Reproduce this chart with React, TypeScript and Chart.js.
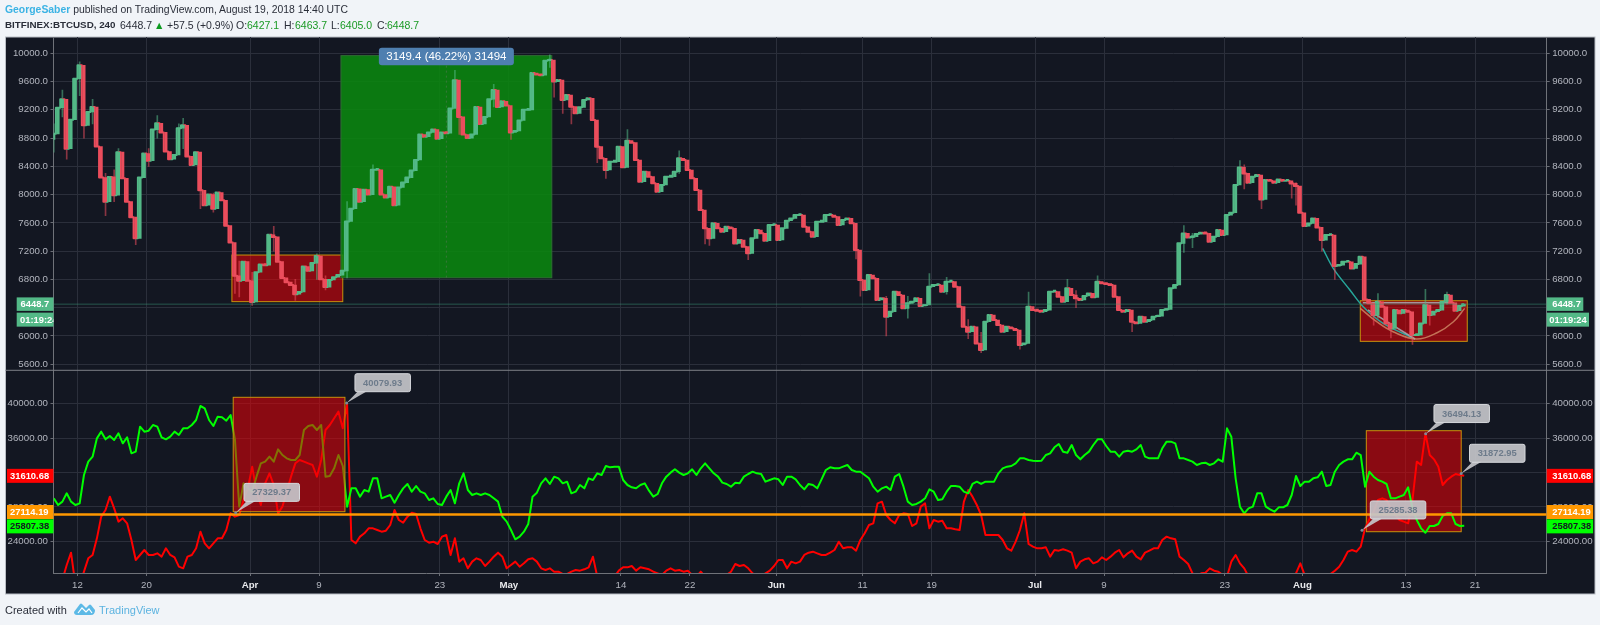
import React, { useEffect, useRef } from "react";
import { Chart, registerables } from "chart.js";

Chart.register(...registerables);

// ---- time axis (days counted from 1 March 2018) ----
const axisDayMin = 8.218;
const axisDayMax = 181.31;
const tickDays = [11, 19, 31, 39, 53, 61, 74, 82, 92, 102, 110, 122, 130, 144, 153, 165, 173];
const tickLabels = ["12", "20", "Apr", "9", "23", "May", "14", "22", "Jun", "11", "19", "Jul", "9", "23", "Aug", "13", "21"];
const monthTickDays = [31, 61, 92, 122, 153];

const priceTicks = [5600, 6000, 6400, 6800, 7200, 7600, 8000, 8400, 8800, 9200, 9600, 10000];
const lowerTicks = [24000, 28000, 32000, 36000, 40000];

const firstBarDay = 8.25;
const barStepDays = 0.5;

// ---- BTCUSD closes, one value every half day ----
const closes = [
  8860, 9230, 9350, 8650, 9060, 9640, 9830, 8980, 9170, 9240,
  8680, 8240, 7900, 8250, 7990, 8600, 8230, 7900, 7680, 7380,
  8240, 8580, 8480, 8920, 9010, 8880, 8610, 8500, 8560, 8940,
  8980, 8540, 8420, 8600, 8060, 7850, 8000, 7800, 8030, 7920,
  7560, 7320, 6850, 6780, 7050, 6780, 6480, 6900, 7010, 7000,
  7430, 7400, 7050, 6820, 6760, 6720, 6590, 6620, 6980, 6920,
  7030, 7130, 6800, 6690, 6790, 6830, 6860, 6920, 7620, 7800,
  8080, 7900, 8070, 8000, 8350, 8350, 8000, 7960, 8110, 7850,
  8100, 8170, 8240, 8340, 8490, 8850, 8820, 8880, 8920, 8790,
  8880, 8870, 9220, 9620, 9100, 8850, 8800, 8850, 9240, 9000,
  9100, 9350, 9480, 9240, 9320, 9260, 8880, 8900, 9050, 9200,
  9200, 9720, 9700, 9690, 9896, 9905, 9600, 9622, 9339, 9410,
  9245, 9150, 9235, 9339, 9363, 9056, 8678, 8513, 8348, 8466,
  8466, 8678, 8386, 8763, 8735, 8490, 8183, 8324, 8253, 8159,
  8041, 8135, 8253, 8253, 8324, 8513, 8489, 8348, 8230, 8065,
  7781, 7522, 7380, 7593, 7522, 7475, 7545, 7522, 7309, 7357,
  7262, 7168, 7380, 7498, 7451, 7347, 7569, 7569, 7357, 7522,
  7630, 7663, 7711, 7711, 7545, 7475, 7404, 7616, 7616, 7711,
  7711, 7687, 7569, 7640, 7663, 7593, 7215, 6790, 6649, 6861,
  6814, 6507, 6531, 6271, 6342, 6625, 6578, 6389, 6460, 6483,
  6531, 6422, 6436, 6696, 6720, 6720, 6625, 6767, 6767, 6696,
  6413, 6129, 6059, 6129, 5893, 5799, 6200, 6295, 6224, 6153,
  6059, 6129, 6106, 6082, 5870, 5893, 6413, 6365, 6356, 6342,
  6365, 6625, 6625, 6554, 6483, 6672, 6578, 6531, 6507, 6564,
  6601, 6545, 6767, 6743, 6734, 6720, 6554, 6365, 6342, 6365,
  6200, 6177, 6271, 6200, 6224, 6271, 6280, 6365, 6375, 6672,
  6720, 7310, 7450, 7394, 7403, 7441, 7460, 7450, 7332, 7403,
  7498, 7427, 7710, 7743, 8135, 8385, 8300, 8168, 8253, 8276,
  7932, 8206, 8196, 8168, 8215, 8196, 8196, 8158, 8121, 7743,
  7554, 7592, 7663, 7535, 7356, 7427, 7427, 6988, 7002, 7049,
  7049, 6955, 7016, 7120, 6516, 6460, 6294, 6483, 6412, 6176,
  6105, 6365, 6318, 6365, 6341, 6011, 6011, 6176, 6436, 6294,
  6341, 6365, 6483, 6577, 6469, 6355, 6421, 6448.7,
];

// ---- wicks that stand out, by bar number ----
const wickBars = [0, 2, 3, 6, 7, 9, 12, 14, 15, 19, 22, 24, 29, 30, 34, 37, 42, 43, 46, 51, 56, 61, 63, 68, 74, 93, 94, 102, 106, 115, 116, 118, 120, 126, 128, 133, 145, 151, 152, 161, 186, 187, 193, 198, 203, 207, 212, 215, 224, 226, 235, 237, 242, 250, 262, 264, 275, 276, 280, 287, 288, 294, 297, 306, 307, 310, 315, 318, 319, 323];
const wickHighs = [9000, 9480, 9100, 9880, 9300, 9350, 8300, 8350, 8650, 7600, 8650, 9120, 9000, 9080, 8200, 8020, 7200, 7060, 6900, 7550, 6800, 7160, 6850, 7900, 8420, 9760, 9200, 9560, 8960, 9980, 9760, 9450, 9300, 8700, 8400, 8920, 8620, 7650, 7480, 7250, 7290, 6950, 6560, 6560, 6880, 6830, 6230, 6050, 6060, 6620, 6800, 6640, 6850, 6250, 7560, 7450, 8480, 8420, 8050, 8180, 8170, 7450, 7100, 6420, 6600, 6180, 6120, 6660, 6400, 6620];
const wickLows = [8600, 9100, 8500, 9400, 8800, 9000, 7700, 7900, 8200, 7290, 8400, 8800, 8700, 8650, 7800, 7750, 6600, 6550, 6430, 7200, 6500, 6800, 6650, 6820, 8200, 9400, 8850, 9240, 8780, 9800, 9380, 9150, 9000, 8450, 8230, 8500, 8300, 7300, 7280, 7080, 7090, 6560, 6000, 6250, 6500, 6590, 5960, 5760, 5810, 6300, 6500, 6400, 6600, 6060, 7180, 7250, 8180, 8080, 7800, 7950, 7850, 7200, 6800, 6150, 6250, 5970, 5880, 6250, 6150, 6450];

// ---- lower pane, the two indicator lines ----
const greenLine = [
  28997, 28221, 28609, 29578, 28609, 28221, 28415, 31710, 33260, 33842,
  35973, 36749, 35857, 36245, 35780, 36555, 35392, 36090, 34229, 34423,
  37330, 36749, 36865, 37524, 37330, 36090, 35857, 36167, 36749, 36361,
  37136, 37136, 37524, 38105, 39733, 39462, 38105, 37408, 38493, 38415,
  38027, 38687, 35857, 28028, 30741, 30159, 29771, 31516, 33066, 33260,
  33842, 33260, 34694, 34035, 33648, 33454, 33454, 34035, 36943, 37408,
  37524, 36943, 37524, 31516, 31594, 32485, 34035, 32757, 28028, 30159,
  30159, 29190, 29965, 29771, 31322, 31322, 28997, 29190, 29384, 28493,
  29384, 30159, 30664, 29771, 30431, 29771, 29578, 28803, 28997, 28338,
  28221, 29190, 29965, 28415, 30741, 31904, 29965, 29384, 29578, 29384,
  29578, 29384, 28997, 28609, 26865, 26284, 25314, 24229, 24539, 25121,
  26013, 29190, 29655, 30741, 31322, 30664, 31516, 31322, 30741, 30935,
  29578, 29771, 30547, 30159, 31322, 31128, 31904, 31710, 32757, 32601,
  32679, 32679, 31128, 30547, 30276, 30159, 30547, 30741, 29888, 29190,
  29500, 30741, 31516, 31981, 32369, 31981, 31710, 31904, 32369, 31710,
  32485, 33066, 32485, 31904, 31516, 30819, 30664, 30353, 30819, 30741,
  31516, 31826, 32097, 31904, 31826, 30935, 31128, 31322, 31206, 30547,
  31516, 31516, 31206, 30547, 30043, 30664, 30547, 30159, 31206, 32291,
  32601, 32485, 32485, 32679, 32873, 32291, 32097, 32097, 31710, 31322,
  30353, 29771, 30159, 30353, 29965, 31516, 31826, 30353, 28609, 28221,
  28338, 28609, 28997, 30043, 29771, 28803, 28880, 29771, 30431, 30431,
  30353, 29771, 29578, 30664, 30935, 30664, 30935, 30935, 30935, 31904,
  32485, 32679, 32757, 33066, 33648, 33648, 33454, 33377, 33338, 33377,
  34035, 34229, 34927, 35314, 34423, 34307, 35198, 34035, 33532, 34035,
  34423, 35198, 35857, 35857, 35082, 34423, 34423, 33842, 34423, 34539,
  34423, 34694, 35198, 33842, 33648, 33648, 33648, 34811, 35586, 35586,
  35392, 33648, 33648, 33454, 33260, 32873, 33066, 33143, 32872, 33066,
  33531, 33260, 37135, 36166, 31321, 28027, 27252, 27833, 28027, 29577,
  29577, 28027, 27717, 27445, 27949, 27949, 28221, 29383, 31593, 30430,
  30934, 30934, 31321, 31437, 32096, 30430, 30546, 32096, 32872, 33260,
  33531, 33531, 34306, 34034, 30352, 32096, 31515, 31127, 30934, 30663,
  28995, 28995, 29190, 29383, 30275, 27833, 26477, 25508, 24994, 25779,
  25779, 26011, 26942, 27252, 27252, 26011, 25779, 25807.38,
];
const redLine = [
  19000, 19000, 19500, 21245, 22679, 19000, 19000, 20469, 22020, 22408,
  24346, 26865, 27640, 29190, 27834, 26284, 26671, 26090, 24152, 21826,
  22408, 22989, 22408, 22408, 22601, 22214, 23183, 22408, 22136, 21050,
  20857, 22214, 22408, 23183, 25121, 23764, 23183, 23764, 24346, 24346,
  25314, 27252, 26865, 27059, 28803, 30159, 32679, 29771, 28221, 30741,
  31904, 30547, 27252, 28028, 29771, 31516, 33066, 33454, 33260, 33066,
  32873, 31516, 33454, 36943, 37524, 38299, 39074, 37136, 40079.93, 24152,
  23764, 24539, 24927, 25508, 25508, 25314, 25121, 25237, 25896, 27640,
  26477, 26167, 26865, 27330, 27175, 25508, 24152, 23842, 23957, 23686,
  24539, 24733, 22408, 24346, 21632, 22020, 20857, 21632, 22020, 21826,
  21128, 21632, 22214, 22679, 22214, 20857, 21245, 21632, 21050, 21438,
  21903, 22020, 21632, 20857, 20663, 20857, 20469, 20469, 20198, 20198,
  20469, 20663, 20586, 20741, 20973, 22214, 19888, 19500, 19500, 19500,
  19888, 20586, 20973, 20973, 21128, 20586, 20973, 20857, 20741, 20469,
  20276, 20082, 20586, 20857, 20586, 20663, 20469, 20586, 20082, 19888,
  20469, 19888, 19500, 19500, 19500, 19500, 20082, 20469, 21361, 21128,
  21245, 20857, 20276, 19888, 19888, 20276, 20586, 21128, 21826, 21826,
  20857, 21632, 21438, 21632, 22408, 22679, 22795, 22601, 22408, 22408,
  22679, 22989, 23957, 23183, 23299, 23299, 22911, 24152, 24927, 25896,
  26090, 28415, 28609, 27059, 26477, 26090, 27059, 27252, 27175, 25780,
  26090, 28028, 28415, 25508, 26477, 26284, 26400, 25508, 25508, 25392,
  25314, 28609, 29965, 29190, 28221, 27059, 24733, 24733, 24733, 24733,
  24152, 23183, 22911, 23957, 25314, 27252, 23686, 23376, 23183, 23183,
  23299, 22214, 22989, 22911, 23067, 22911, 22679, 20857, 21632, 21903,
  22020, 21438, 21632, 22136, 21826, 22214, 22679, 22989, 22136, 22601,
  22911, 22214, 21903, 22679, 22911, 23183, 23183, 24152, 24539, 24346,
  24229, 22214, 21826, 21361, 20276, 19500, 20275, 20352, 20856, 20585,
  20469, 20081, 19887, 21632, 22407, 21437, 20856, 19887, 19500, 19500,
  19500, 19500, 19500, 19500, 19500, 19500, 19500, 19887, 20275, 21437,
  20081, 19693, 19500, 19500, 19500, 19887, 20197, 20585, 21050, 21825,
  22795, 22988, 22795, 23375, 25507, 26554, 27445, 28802, 28995, 28802,
  27833, 27058, 26477, 26283, 26089, 28802, 33260, 32872, 36554, 34034,
  33530, 32678, 30546, 31127, 31515, 31825, 31708, 31610.68,
];
const orangeLevel = 27114.19;
const greenLast = 25807.38;
const redLast = 31610.68;
const lastPrice = 6448.7;
const countdown = "01:19:24";

// ---- drawings on the price pane ----
const cupDays = [155.34, 156.57, 158.5, 160.04, 162.3, 166.04];
const cupPrices = [7239, 6956, 6649, 6412, 6181, 5955];
const arcDays = [159.7, 161.6, 163.5, 166.2, 168.6, 170.5, 171.8];
const arcPrices = [6389, 6200, 6058, 5955, 6044, 6200, 6389];
const chordDays = [160.6, 166.04];
const chordPrices = [6366, 5955];
const neckDays = [160, 170];
const neckPrices = [6469, 6469];

// [first day, last day, top value, bottom value]
const priceRedBoxes = [
  [28.9, 41.75, 7144, 6484],
  [159.7, 172.1, 6497, 5922],
];
const priceGreenBox = [41.54, 65.98, 9967, 6822];
const lowerBoxUnderLines = [160.4, 171.4, 36860, 25116];
const lowerBoxOverLines = [29.05, 42.0, 40744, 27442];
const rangeLabel = "3149.4 (46.22%) 31494";

// callouts on the lower pane
const calloutDays = [42.2, 29.34, 167.28, 171.4, 159.9];
const calloutValues = [40079.93, 27329.37, 36494.13, 31872.95, 25285.38];

const BG = "#131722";
const GRID = "#2b2f3b";
const TEXT = "#b2b5be";
const UP = "#53b987";
const DOWN = "#eb4d5c";
const FONT = "'Liberation Sans', Arial, sans-serif";
const TICK_PX = 9.7;

const barDays = closes.map((_, i) => firstBarDay + i * barStepDays);
const opens = closes.map((c, i) => (i === 0 ? 8780 : closes[i - 1]));

function paneRect(ctx: any, x0: number, x1: number, y0: number, y1: number, fill: string, stroke: string) {
  ctx.save();
  ctx.fillStyle = fill;
  ctx.fillRect(x0, y0, x1 - x0, y1 - y0);
  ctx.strokeStyle = stroke;
  ctx.lineWidth = 1;
  ctx.strokeRect(x0, y0, x1 - x0, y1 - y0);
  ctx.restore();
}

function drawBox(chart: any, box: number[], axis: string, fill: string, stroke: string) {
  const sx = chart.scales.x;
  const sy = chart.scales[axis];
  paneRect(
    chart.ctx,
    sx.getPixelForValue(box[0]),
    sx.getPixelForValue(box[1]),
    sy.getPixelForValue(box[2]),
    sy.getPixelForValue(box[3]),
    fill,
    stroke
  );
}

function tag(ctx: any, x0: number, x1: number, yc: number, h: number, bg: string, fg: string, text: string, tx: number) {
  ctx.save();
  ctx.fillStyle = bg;
  ctx.fillRect(x0, yc - h / 2, x1 - x0, h);
  ctx.beginPath();
  ctx.rect(x0, yc - h / 2, x1 - x0, h);
  ctx.clip();
  ctx.fillStyle = fg;
  ctx.font = `bold 9.4px ${FONT}`;
  ctx.textAlign = "left";
  ctx.textBaseline = "middle";
  ctx.fillText(text, tx, yc + 0.5);
  ctx.restore();
}

const RED_FILL = "rgba(237,0,5,0.55)";
const BOX_EDGE = "#c8920c";

const panesPlugin = {
  id: "panes",
  beforeDraw(chart: any) {
    const { ctx, chartArea: a, width, height } = chart;
    ctx.save();
    ctx.fillStyle = "#f1f4f8";
    ctx.fillRect(0, 0, width, height);
    const fx0 = a.left - 48;
    const fy0 = a.top;
    const fx1 = a.right + 48.3;
    const fy1 = a.bottom + 21;
    ctx.fillStyle = BG;
    ctx.fillRect(fx0, fy0, fx1 - fx0, fy1 - fy0);
    ctx.strokeStyle = "#b9bdc4";
    ctx.lineWidth = 1;
    ctx.strokeRect(fx0, fy0, fx1 - fx0, fy1 - fy0);
    ctx.restore();
  },
  beforeDatasetsDraw(chart: any) {
    const { ctx, chartArea: a } = chart;
    const sx = chart.scales.x;
    priceRedBoxes.forEach((b) => drawBox(chart, b, "yPrice", RED_FILL, BOX_EDGE));
    drawBox(chart, priceGreenBox, "yPrice", "rgba(10,135,15,0.88)", "#2f6f34");
    const mid = sx.getPixelForValue((priceGreenBox[0] + priceGreenBox[1]) / 2);
    const gy = chart.scales.yPrice;
    ctx.save();
    ctx.setLineDash([2, 3]);
    ctx.strokeStyle = "rgba(70,120,70,0.8)";
    ctx.beginPath();
    ctx.moveTo(mid, gy.getPixelForValue(priceGreenBox[2]));
    ctx.lineTo(mid, gy.getPixelForValue(priceGreenBox[3]));
    ctx.stroke();
    ctx.restore();
    drawBox(chart, lowerBoxUnderLines, "yLower", RED_FILL, BOX_EDGE);
    // separator between the panes
    ctx.save();
    ctx.strokeStyle = "#7d8087";
    ctx.lineWidth = 1;
    const sep = gy.bottom;
    ctx.beginPath();
    ctx.moveTo(a.left - 48, sep);
    ctx.lineTo(a.right + 48.3, sep);
    ctx.stroke();
    ctx.restore();
  },
  afterDatasetsDraw(chart: any) {
    drawBox(chart, lowerBoxOverLines, "yLower", RED_FILL, BOX_EDGE);
  },
  afterDraw(chart: any) {
    const { ctx, chartArea: a } = chart;
    const sx = chart.scales.x;
    const sp = chart.scales.yPrice;
    const sl = chart.scales.yLower;

    // measuring tool label
    const cx = (sx.getPixelForValue(priceGreenBox[0]) + sx.getPixelForValue(priceGreenBox[1])) / 2;
    const topY = sp.getPixelForValue(priceGreenBox[2]);
    ctx.save();
    ctx.fillStyle = "#4f7fb0";
    ctx.beginPath();
    ctx.roundRect(cx - 67.5, topY - 8, 135, 17.5, 3);
    ctx.fill();
    ctx.fillStyle = "#ffffff";
    ctx.font = `11.5px ${FONT}`;
    ctx.textAlign = "center";
    ctx.textBaseline = "middle";
    ctx.fillText(rangeLabel, cx, topY + 1);
    ctx.restore();

    // callouts
    calloutValues.forEach((v, i) => {
      const tx = sx.getPixelForValue(calloutDays[i]);
      const ty = sl.getPixelForValue(v);
      const bx = tx + 8.3;
      const by = ty - 29.3;
      ctx.save();
      ctx.fillStyle = "rgba(196,198,202,0.92)";
      ctx.beginPath();
      ctx.moveTo(tx, ty);
      ctx.lineTo(bx + 3, by + 17.5);
      ctx.lineTo(bx + 12, by + 17.5);
      ctx.closePath();
      ctx.fill();
      ctx.beginPath();
      ctx.roundRect(bx, by, 55.5, 18, 2);
      ctx.fill();
      ctx.strokeStyle = "#d6d8dc";
      ctx.stroke();
      ctx.fillStyle = "#7e8a98";
      ctx.beginPath();
      ctx.arc(tx, ty, 1.5, 0, Math.PI * 2);
      ctx.fill();
      ctx.fillStyle = "#6d7b8b";
      ctx.font = `bold 9.4px ${FONT}`;
      ctx.textAlign = "center";
      ctx.textBaseline = "middle";
      ctx.fillText(v.toFixed(2), bx + 27.7, by + 9.5);
      ctx.restore();
    });

    // value tags on both sides of the panes
    const L = a.left;
    const R = a.right;
    const pY = sp.getPixelForValue(lastPrice);
    tag(ctx, L - 36.8, L, pY, 13.5, UP, "#ffffff", lastPrice.toFixed(1), L - 33);
    tag(ctx, L - 36.8, L, pY + 15.5, 14, UP, "#ffffff", countdown, L - 33.5);
    tag(ctx, R, R + 36.6, pY, 13.5, UP, "#ffffff", lastPrice.toFixed(1), R + 5.5);
    tag(ctx, R, R + 42.3, pY + 15.5, 14, UP, "#ffffff", countdown, R + 2.5);

    const rows: [number, number, string, string][] = [
      [redLast, 0, "#ff0000", "#ffffff"],
      [orangeLevel, -2.5, "#ff9800", "#ffffff"],
      [greenLast, 0.6, "#00ff00", "#131722"],
    ];
    rows.forEach(([v, dy, bg, fg]) => {
      const y = sl.getPixelForValue(v) + dy;
      tag(ctx, L - 46.5, L, y, 14, bg, fg, v.toFixed(2), L - 43.5);
      tag(ctx, R, R + 46.4, y, 14, bg, fg, v.toFixed(2), R + 5.5);
    });
  },
};

function yScale(position: string, stack: string, w: number, weight: number, lo: number, hi: number, values: number[], digits: number, width: number, gridOn: boolean) {
  return {
    type: "linear",
    position,
    stack,
    stackWeight: w,
    weight,
    min: lo,
    max: hi,
    afterFit: (s: any) => {
      s.width = width;
    },
    afterBuildTicks: (s: any) => {
      s.ticks = values.map((value) => ({ value }));
    },
    grid: { color: GRID, drawOnChartArea: gridOn, tickLength: 3, tickColor: "#6a6d75" },
    border: { color: "#6f7279" },
    ticks: {
      autoSkip: false,
      padding: 2.5,
      color: TEXT,
      font: { family: FONT, size: TICK_PX },
      callback: (v: any) => Number(v).toFixed(digits),
    },
  };
}

const headLine2: [string, number, boolean, string][] = [
  ["BITFINEX:BTCUSD, 240", 5, true, "#2a2e39"],
  ["6448.7", 120, false, "#2a2e39"],
  ["▲", 154, false, "#0c9a1f"],
  ["+57.5 (+0.9%)", 167, false, "#2a2e39"],
  ["O:", 236, false, "#2a2e39"],
  ["6427.1", 247, false, "#1a9a24"],
  ["H:", 284, false, "#2a2e39"],
  ["6463.7", 295, false, "#1a9a24"],
  ["L:", 331, false, "#2a2e39"],
  ["6405.0", 340, false, "#1a9a24"],
  ["C:", 377, false, "#2a2e39"],
  ["6448.7", 387, false, "#1a9a24"],
];

export default function App() {
  const ref = useRef<HTMLCanvasElement | null>(null);

  useEffect(() => {
    if (!ref.current) return;
    const points = (xs: number[], ys: number[]) => xs.map((x, i) => ({ x, y: ys[i] }));
    const lineBase = { type: "line", pointRadius: 0, borderJoinStyle: "round", xAxisID: "x" };

    const chart = new Chart(ref.current, {
      type: "line",
      data: {
        datasets: [
          {
            ...lineBase,
            label: "Cup",
            data: points(cupDays, cupPrices),
            yAxisID: "yPrice",
            borderColor: "#26a69a",
            borderWidth: 1.5,
            tension: 0.35,
            order: 6,
          },
          {
            ...lineBase,
            label: "Arc",
            data: points(arcDays, arcPrices),
            yAxisID: "yPrice",
            borderColor: "rgba(214,150,110,0.75)",
            borderWidth: 1.5,
            tension: 0.4,
            order: 5,
          },
          {
            ...lineBase,
            label: "Chord",
            data: points(chordDays, chordPrices),
            yAxisID: "yPrice",
            borderColor: "rgba(170,170,180,0.85)",
            borderWidth: 1.5,
            order: 5,
          },
          {
            ...lineBase,
            label: "Neck",
            data: points(neckDays, neckPrices),
            yAxisID: "yPrice",
            borderColor: "rgba(170,170,180,0.85)",
            borderWidth: 1.5,
            order: 5,
          },
          {
            type: "bar",
            label: "Wicks",
            data: wickBars.map((b, i) => ({ x: barDays[b], y: [wickLows[i], wickHighs[i]] })),
            xAxisID: "x",
            yAxisID: "yPrice",
            barThickness: 1,
            grouped: false,
            borderWidth: 0,
            backgroundColor: wickBars.map((b) =>
              closes[b] >= opens[b] ? "rgba(83,185,135,0.55)" : "rgba(235,77,92,0.55)"
            ),
            order: 4,
          },
          {
            ...lineBase,
            label: "Close path",
            data: points(barDays, closes),
            yAxisID: "yPrice",
            borderColor: DOWN,
            borderWidth: 2,
            stepped: "middle",
            segment: {
              borderColor: (c: any) => (c.p1.parsed.y >= c.p0.parsed.y ? UP : DOWN),
            },
            order: 3.5,
          },
          {
            type: "bar",
            label: "BITFINEX:BTCUSD",
            data: barDays.map((x, i) => ({ x, y: [opens[i], closes[i]] })),
            xAxisID: "x",
            yAxisID: "yPrice",
            barThickness: 2.4,
            minBarLength: 1.5,
            grouped: false,
            borderWidth: 0,
            backgroundColor: closes.map((c, i) => (c >= opens[i] ? UP : DOWN)),
            order: 3,
          },
          {
            ...lineBase,
            label: "Last price",
            data: points([axisDayMin, axisDayMax], [lastPrice, lastPrice]),
            yAxisID: "yPrice",
            borderColor: "#3d9a76",
            borderWidth: 1,
            borderDash: [1, 1],
            order: 2,
          },
          {
            ...lineBase,
            label: "Level",
            data: points([axisDayMin, axisDayMax], [orangeLevel, orangeLevel]),
            yAxisID: "yLower",
            borderColor: "#ff9800",
            borderWidth: 2.4,
            order: 0,
          },
          {
            ...lineBase,
            label: "Green",
            data: points(barDays, greenLine),
            yAxisID: "yLower",
            borderColor: "#00ff00",
            borderWidth: 2,
            order: 1,
          },
          {
            ...lineBase,
            label: "Red",
            data: points(barDays, redLine),
            yAxisID: "yLower",
            borderColor: "#ff0000",
            borderWidth: 2,
            order: 1,
          },
        ],
      } as any,
      options: {
        animation: false,
        responsive: false,
        devicePixelRatio: 1,
        layout: { padding: { left: 5.5, right: 5, top: 37, bottom: 31 } },
        plugins: { legend: { display: false }, tooltip: { enabled: false } },
        scales: {
          x: {
            type: "linear",
            min: axisDayMin,
            max: axisDayMax,
            offset: false,
            afterBuildTicks: (s: any) => {
              s.ticks = tickDays.map((value) => ({ value }));
            },
            afterFit: (s: any) => {
              s.height = 21;
            },
            grid: { color: GRID, offset: false, drawTicks: true, tickLength: 3, tickColor: "#6a6d75" },
            border: { color: "#6f7279", width: 1 },
            ticks: {
              autoSkip: false,
              maxRotation: 0,
              padding: 4,
              color: (c: any) => (monthTickDays.includes(c.tick?.value) ? "#e8e9ec" : TEXT),
              font: (c: any) => ({
                family: FONT,
                size: TICK_PX,
                weight: monthTickDays.includes(c.tick?.value) ? "bold" : "normal",
              }),
              callback: (v: any) => tickLabels[tickDays.indexOf(v)],
            },
          },
          yPrice: yScale("left", "L", 333.3, 1, 5512, 10231, priceTicks, 1, 48, true),
          yLower: yScale("left", "L", 202.7, 0, 20314, 43884, lowerTicks, 2, 48, true),
          yPriceRight: yScale("right", "R", 333.3, 0, 5512, 10231, priceTicks, 1, 48.3, false),
          yLowerRight: yScale("right", "R", 202.7, 1, 20314, 43884, lowerTicks, 2, 48.3, false),
        },
      } as any,
      plugins: [panesPlugin],
    });
    return () => chart.destroy();
  }, []);

  const text = { position: "absolute", whiteSpace: "nowrap", lineHeight: "14px" } as any;
  return (
    <div
      style={{
        position: "fixed",
        left: 0,
        top: 0,
        width: 1600,
        height: 625,
        overflow: "hidden",
        background: "#f1f4f8",
        fontFamily: FONT,
        fontSize: 10.5,
        color: "#2a2e39",
      }}
    >
      <canvas ref={ref} width={1600} height={625} style={{ position: "absolute", left: 0, top: 0, width: 1600, height: 625 }} />
      <div style={{ ...text, left: 5, top: 3, fontSize: 10.4 }}>
        <span style={{ color: "#3bb3e4", fontWeight: 700 }}>GeorgeSaber</span> published on TradingView.com, August 19, 2018 14:40 UTC
      </div>
      {headLine2.map(([t, left, bold, color], i) => (
        <div key={i} style={{ ...text, left, top: 18, color, fontWeight: bold ? 700 : 400, fontSize: bold ? 9.8 : 10.5 }}>
          {t}
        </div>
      ))}
      <div style={{ ...text, left: 5, top: 603, fontSize: 11 }}>Created with</div>
      <svg width="21" height="14" viewBox="0 0 21 14" style={{ position: "absolute", left: 74, top: 602 }}>
        <path d="M0 10 L6 2 Q7 1 8 2 L12 6 L15 3 Q16 2 17 3 L21 8 Q21 13 17 13 L3 13 Q0 13 0 10 Z" fill="#5cb9e6" />
        <path d="M4 11 L8 6 L12 10 L15 7 L18 11" stroke="#ffffff" strokeWidth="1.2" fill="none" />
      </svg>
      <div style={{ ...text, left: 99, top: 603, fontSize: 11, color: "#5cb3e0" }}>TradingView</div>
    </div>
  );
}
